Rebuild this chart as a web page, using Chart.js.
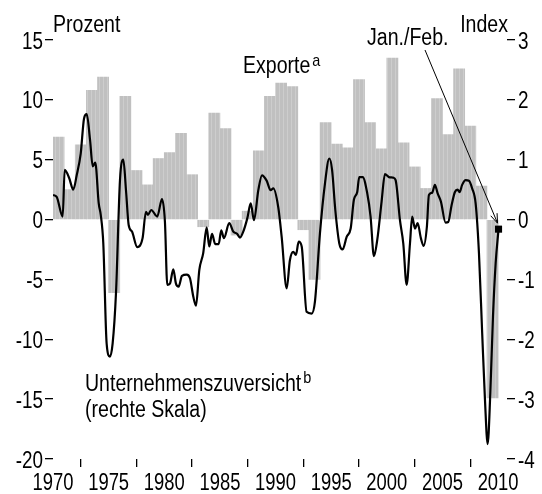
<!DOCTYPE html>
<html>
<head>
<meta charset="utf-8">
<script src="https://cdn.jsdelivr.net/npm/chart.js@4"></script>
<style>
  html, body { margin: 0; padding: 0; background: #fff; }
  #wrap { width: 542px; height: 494px; }
</style>
</head>
<body>
<div id="wrap"><canvas id="myChart" width="542" height="494"></canvas></div>
<script>
// Exporte, Veränderung gegenüber Vorjahr in Prozent (linke Skala)
const exportYears = [1970, 1971, 1972, 1973, 1974, 1975, 1976, 1977, 1978, 1979,
  1980, 1981, 1982, 1983, 1984, 1985, 1986, 1987, 1988, 1989,
  1990, 1991, 1992, 1993, 1994, 1995, 1996, 1997, 1998, 1999,
  2000, 2001, 2002, 2003, 2004, 2005, 2006, 2007, 2008, 2009];
const exportGrowth = [6.9, 2.5, 6.25, 10.8, 11.9, -6.1, 10.3, 4.1, 2.9, 5.1,
  5.6, 7.2, 3.75, -0.6, 8.9, 7.6, -1.3, 0.7, 5.75, 10.3,
  11.4, 11.1, -0.85, -5.0, 8.1, 6.3, 6.0, 11.7, 8.1, 5.9,
  13.5, 6.4, 4.4, 2.6, 10.1, 7.1, 12.6, 7.8, 2.8, -14.9];

// Unternehmenszuversicht, Index (rechte Skala)
const confDates = [1970.00, 1970.33, 1970.87, 1971.05, 1971.46, 1971.82, 1972.13, 1972.49, 1972.79, 1973.03,
  1973.33, 1973.57, 1973.80, 1974.11, 1974.29, 1974.52, 1974.82, 1975.12, 1975.36, 1975.66,
  1976.02, 1976.32, 1976.56, 1976.80, 1977.10, 1977.57, 1978.05, 1978.35, 1978.53, 1978.83,
  1979.37, 1979.79, 1980.06, 1980.27, 1980.51, 1980.81, 1981.05, 1981.29, 1981.59, 1982.01,
  1982.31, 1982.61, 1982.85, 1983.15, 1983.50, 1983.81, 1984.04, 1984.29, 1984.58, 1984.89,
  1985.12, 1985.36, 1985.84, 1986.20, 1986.56, 1986.80, 1987.10, 1987.46, 1987.77, 1988.06,
  1988.45, 1988.78, 1989.20, 1989.56, 1989.80, 1990.24, 1990.55, 1991.00, 1991.29, 1991.59,
  1991.83, 1992.08, 1992.35, 1992.79, 1993.24, 1993.54, 1993.99, 1994.44, 1994.83, 1995.08,
  1995.37, 1995.73, 1996.03, 1996.39, 1996.75, 1997.04, 1997.34, 1997.52, 1997.83, 1998.24,
  1998.54, 1998.84, 1999.14, 1999.53, 1999.83, 2000.19, 2000.58, 2000.79, 2001.18, 2001.48,
  2001.78, 2002.08, 2002.28, 2002.53, 2002.77, 2003.06, 2003.31, 2003.60, 2003.78, 2004.08,
  2004.32, 2004.56, 2004.86, 2005.28, 2005.52, 2005.82, 2006.12, 2006.36, 2006.54, 2006.77,
  2007.08, 2007.38, 2007.67, 2007.98, 2008.28, 2008.57, 2008.82, 2009.06, 2009.30, 2009.54,
  2009.78, 2010.04];
const confIndex = [0.41, 0.38, 0.05, 0.83, 0.69, 0.50, 0.74, 1.10, 1.69, 1.76,
  1.33, 0.89, 0.95, 0.27, 0.08, -0.40, -2.07, -2.29, -2.07, -1.23,
  0.66, 1.00, 0.49, -0.09, -0.20, -0.46, -0.31, 0.13, 0.08, 0.16,
  0.05, 0.34, -0.04, -1.09, -1.07, -0.83, -1.07, -1.12, -0.94, -0.92,
  -0.98, -1.29, -1.44, -0.84, -0.56, -0.13, -0.45, -0.24, -0.41, -0.41,
  -0.18, -0.31, -0.06, -0.20, -0.24, -0.30, -0.20, 0.02, 0.27, -0.01,
  0.49, 0.74, 0.65, 0.49, 0.52, 0.21, -0.29, -1.15, -0.68, -0.54,
  -0.59, -0.37, -0.45, -1.54, -1.57, -1.37, -0.23, 0.60, 1.02, 0.83,
  0.16, -0.40, -0.50, -0.29, -0.15, 0.33, 0.46, 0.71, 0.71, 0.44,
  0.05, -0.61, -0.34, 0.30, 0.76, 0.71, 0.70, 0.66, -0.01, -0.40,
  -1.09, -0.40, 0.05, -0.15, -0.06, -0.31, -0.44, -0.12, 0.41, 0.45,
  0.58, 0.44, 0.30, -0.05, -0.04, 0.24, 0.46, 0.50, 0.46, 0.58,
  0.66, 0.65, 0.52, 0.27, -0.56, -1.90, -3.01, -3.75, -2.90, -1.62,
  -0.73, -0.16];

const yearTicks = [1970, 1975, 1980, 1985, 1990, 1995, 2000, 2005, 2010];

const FONT = '"Liberation Sans", Arial, sans-serif';

// schmale Schrift: normale Schrift horizontal gestaucht
function narrowText(ctx, text, x, y, align, size, squeeze) {
  ctx.save();
  ctx.translate(x, y);
  ctx.scale(squeeze, 1);
  ctx.font = size + "px " + FONT;
  ctx.textAlign = align;
  ctx.textBaseline = "alphabetic";
  ctx.fillText(text, 0, 0);
  ctx.restore();
}

function narrowWidth(ctx, text, size, squeeze) {
  ctx.save();
  ctx.font = size + "px " + FONT;
  const w = ctx.measureText(text).width * squeeze;
  ctx.restore();
  return w;
}

// graue Balken mit leichten hellen Streifen
function stripePattern() {
  const c = document.createElement("canvas");
  c.width = 4;
  c.height = 4;
  const p = c.getContext("2d");
  p.fillStyle = "#c0c0c0";
  p.fillRect(0, 0, 4, 4);
  p.fillStyle = "#cdcdcd";
  p.fillRect(3, 0, 1, 4);
  return p.createPattern(c, "repeat");
}

// Achsenbeschriftung, Texte und Pfeil
const labelsPlugin = {
  id: "labels",
  afterDraw(chart) {
    const ctx = chart.ctx;
    const sx = chart.scales.x;
    const sy = chart.scales.y;
    const sy2 = chart.scales.y2;
    ctx.save();
    ctx.fillStyle = "#000";

    sx.ticks.forEach((t) => {
      narrowText(ctx, String(t.value), sx.getPixelForValue(t.value), 490, "center", 23, 0.8);
    });
    sy.ticks.forEach((t) => {
      narrowText(ctx, String(t.value), sy.left + sy.width - 10, sy.getPixelForValue(t.value) + 8.5, "right", 23, 0.82);
    });
    sy2.ticks.forEach((t) => {
      narrowText(ctx, String(t.value), sy2.left + 11, sy2.getPixelForValue(t.value) + 8.5, "left", 23, 0.82);
    });

    narrowText(ctx, "Prozent", 53, 32, "left", 23, 0.85);
    narrowText(ctx, "Index", 508, 32, "right", 23, 0.85);
    narrowText(ctx, "Jan./Feb.", 367, 45, "left", 23, 0.85);
    narrowText(ctx, "Exporte", 243, 73, "left", 23, 0.85);
    narrowText(ctx, "a", 243 + narrowWidth(ctx, "Exporte", 23, 0.85) + 2, 66, "left", 17, 0.85);
    narrowText(ctx, "Unternehmenszuversicht", 85, 391, "left", 23, 0.85);
    narrowText(ctx, "b", 85 + narrowWidth(ctx, "Unternehmenszuversicht", 23, 0.85) + 2, 383, "left", 17, 0.85);
    narrowText(ctx, "(rechte Skala)", 85, 417, "left", 23, 0.85);

    // Pfeil zum letzten Wert
    const meta = chart.getDatasetMeta(1);
    const last = meta.data[meta.data.length - 1];
    const x0 = 425, y0 = 50;
    const x1 = last.x - 1, y1 = last.y - 6;
    ctx.strokeStyle = "#000";
    ctx.lineWidth = 1;
    ctx.beginPath();
    ctx.moveTo(x0, y0);
    ctx.lineTo(x1, y1);
    const ang = Math.atan2(y1 - y0, x1 - x0);
    const len = 10;
    ctx.moveTo(x1, y1);
    ctx.lineTo(x1 - len * Math.cos(ang - 0.35), y1 - len * Math.sin(ang - 0.35));
    ctx.moveTo(x1, y1);
    ctx.lineTo(x1 - len * Math.cos(ang + 0.35), y1 - len * Math.sin(ang + 0.35));
    ctx.stroke();
    ctx.restore();
  },
};

const tickGrid = { drawOnChartArea: false, tickLength: 8, color: "#000", lineWidth: 1.3 };

const ctx = document.getElementById("myChart").getContext("2d");
new Chart(ctx, {
  type: "bar",
  data: {
    datasets: [
      {
        type: "bar",
        label: "Exporte",
        data: exportYears.map((yr, i) => ({ x: yr + 0.5, y: exportGrowth[i] })),
        backgroundColor: stripePattern(),
        borderWidth: 0,
        barPercentage: 1,
        categoryPercentage: 1,
        xAxisID: "x",
        yAxisID: "y",
        order: 2,
      },
      {
        type: "line",
        label: "Unternehmenszuversicht",
        data: confDates.map((d, i) => ({ x: d, y: confIndex[i] })),
        borderColor: "#000",
        borderWidth: 2.2,
        cubicInterpolationMode: "monotone",
        pointStyle: "rect",
        pointRadius: (c) => (c.dataIndex === confDates.length - 1 ? 5 : 0),
        pointBackgroundColor: "#000",
        pointBorderWidth: 0,
        xAxisID: "x",
        yAxisID: "y2",
        order: 1,
      },
    ],
  },
  options: {
    responsive: false,
    animation: false,
    layout: { padding: { top: 40, left: 0, right: 0, bottom: 0 } },
    plugins: { legend: { display: false }, tooltip: { enabled: false } },
    scales: {
      x: {
        type: "linear",
        min: 1970,
        max: 2010.8,
        offset: false,
        afterBuildTicks: (s) => {
          s.ticks = yearTicks.map((v) => ({ value: v }));
        },
        afterFit: (s) => {
          s.height = 35;
        },
        ticks: { display: false },
        grid: tickGrid,
        border: { display: false },
      },
      y: {
        position: "left",
        min: -20,
        max: 15,
        afterFit: (s) => {
          s.width = 53;
        },
        ticks: { stepSize: 5, display: false },
        grid: tickGrid,
        border: { display: false },
      },
      y2: {
        position: "right",
        min: -4,
        max: 3,
        afterFit: (s) => {
          s.width = 35;
        },
        ticks: { stepSize: 1, display: false },
        grid: tickGrid,
        border: { display: false },
      },
    },
  },
  plugins: [labelsPlugin],
});
</script>
</body>
</html>
